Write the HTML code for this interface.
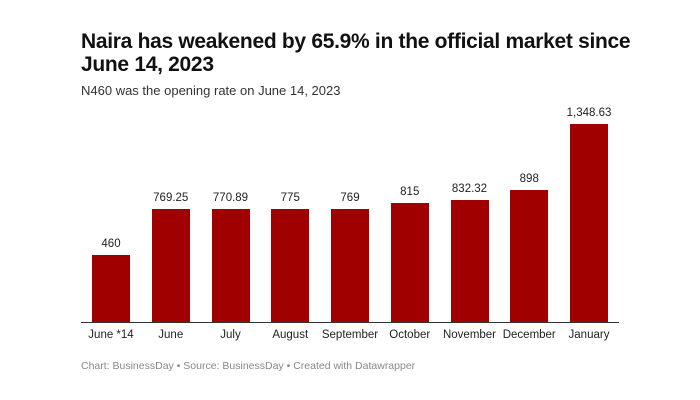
<!DOCTYPE html>
<html><head><style>
body{margin:0;width:700px;height:400px;background:#fff;font-family:"Liberation Sans",sans-serif;position:relative;overflow:hidden}
.t{position:absolute;left:81px;top:30px;font-size:21px;font-weight:bold;line-height:23px;color:#111;letter-spacing:-0.3px}
.s{position:absolute;left:81px;top:83px;font-size:13px;color:#333}
.f{position:absolute;left:81px;top:360px;font-size:10.5px;color:#888}
.b{position:absolute;background:#a10000;width:38px}
.v,.l{position:absolute;width:80px;text-align:center;font-size:11.5px;color:#222}
.ax{position:absolute;left:81px;top:322px;width:538px;height:1px;background:#333}
</style></head><body>
<div class="t">Naira has weakened by 65.9% in the official market since<br>June 14, 2023</div>
<div class="s">N460 was the opening rate on June 14, 2023</div>
<div id="c"></div>
<div class="ax"></div>
<div class="f">Chart: BusinessDay • Source: BusinessDay • Created with Datawrapper</div>
<script>
var d=[["June *14",460,"460"],["June",769.25,"769.25"],["July",770.89,"770.89"],["August",775,"775"],["September",769,"769"],["October",815,"815"],["November",832.32,"832.32"],["December",898,"898"],["January",1348.63,"1,348.63"]];
var h="";d.forEach(function(e,i){var x=92+i*59.75,ht=e[1]*0.1476,top=323-ht,cx=x+19;
h+='<div class="b" style="left:'+x+'px;top:'+top+'px;height:'+ht+'px"></div>';
h+='<div class="v" style="left:'+(cx-40)+'px;top:'+(top-17)+'px">'+e[2]+'</div>';
h+='<div class="l" style="left:'+(cx-40)+'px;top:329px">'+e[0]+'</div>';});
document.getElementById("c").innerHTML=h;
</script>
</body></html>
